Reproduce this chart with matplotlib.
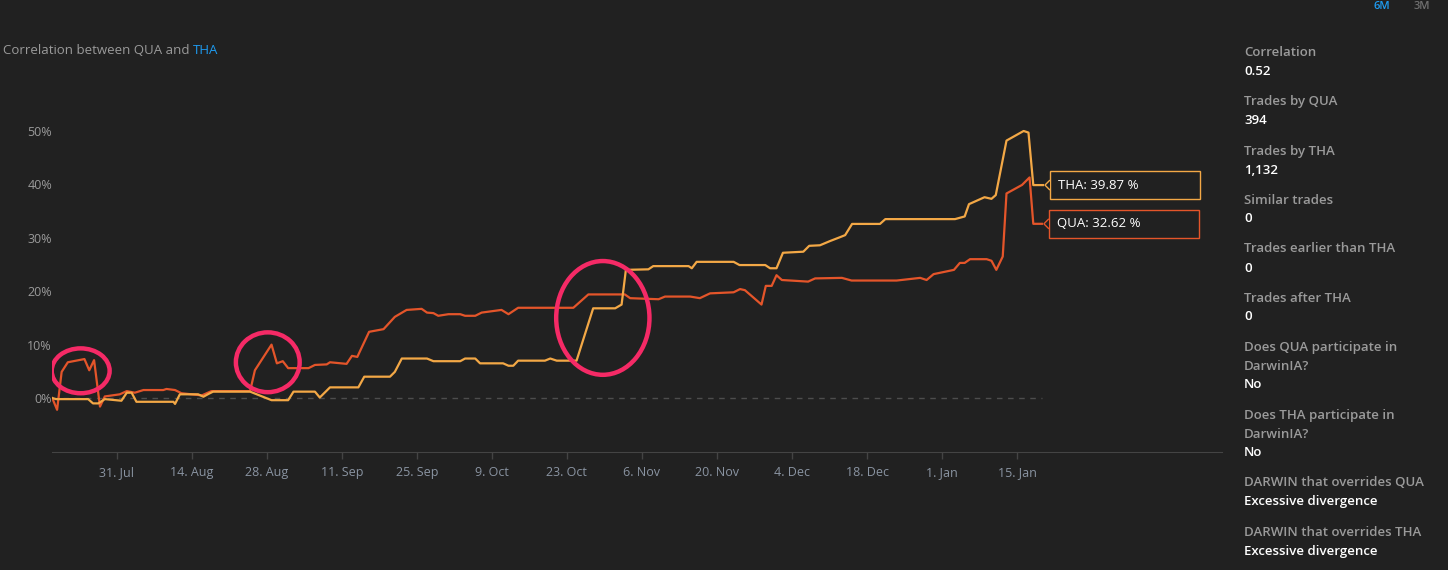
import pandas as pd
import matplotlib.pyplot as plt
import matplotlib.dates as mdates
from matplotlib.patches import Ellipse, Rectangle, Polygon
from matplotlib.transforms import IdentityTransform

plt.rcParams["font.family"] = ["Open Sans", "DejaVu Sans"]

BG = "#212121"
QUA_COLOR = "#e4552a"
THA_COLOR = "#f3a846"
CIRCLE_COLOR = "#f52a66"
LABEL_GREY = "#9a9a9a"
TICK_GREY = "#8a94a2"
BLUE = "#1e9bf0"

start = pd.Timestamp("2017-07-19")

# days since start, correlation %
qua_days = [0, 0.9, 1.75, 2.9, 6.0, 6.9, 7.8, 8.9, 9.8, 12.6, 13.9, 15.4, 17.0, 20.7, 21.3,
            22.9, 24.1, 27.9, 29.7, 36.9, 37.8, 40.9, 41.9, 43.0, 44.0, 47.8, 49.0, 51.2,
            51.8, 54.9, 55.9, 56.9, 59.1, 61.8, 63.9, 66.1, 68.9, 69.9, 71.1, 72.0, 73.9,
            76.1, 77.0, 78.9, 80.1, 83.8, 85.1, 86.9, 97.2, 98.1, 100.0, 106.8, 107.8,
            113.1, 114.3, 119.0, 120.8, 122.7, 127.1, 128.3, 129.2, 132.3, 133.1, 134.2,
            135.1, 136.1, 141.0, 142.3, 147.3, 149.1, 157.5, 161.9, 163.1, 164.4, 168.2,
            169.3, 170.2, 171.2, 174.3, 175.2, 176.1, 177.3, 178.0, 180.9, 182.3, 183.0, 184.6]
qua_vals = [0, -2.2, 4.9, 6.7, 7.3, 5.2, 7.1, -1.6, 0.3, 0.7, 1.3, 1.0, 1.5, 1.5, 1.7,
            1.5, 0.9, 0.5, 1.3, 1.3, 5.2, 10.0, 6.5, 6.9, 5.6, 5.6, 6.2, 6.3,
            6.7, 6.4, 7.9, 7.7, 12.4, 12.9, 15.2, 16.5, 16.7, 16.0, 15.9, 15.4, 15.7,
            15.7, 15.4, 15.4, 16.0, 16.5, 15.7, 16.9, 16.9, 17.7, 19.4, 19.4, 18.7,
            18.5, 19.0, 19.0, 18.7, 19.6, 19.8, 20.4, 20.2, 17.5, 21.0, 21.0,
            23.0, 22.1, 21.8, 22.4, 22.5, 22.0, 22.0, 22.5, 22.1, 23.2, 24.0,
            25.3, 25.3, 26.0, 26.0, 25.7, 24.0, 26.5, 38.3, 39.9, 41.3, 32.62, 32.62]

tha_days = [0, 0.7, 6.7, 7.6, 8.6, 9.8, 12.9, 13.9, 14.8, 15.7, 22.6, 22.9, 23.8, 27.2,
            28.2, 29.1, 30.0, 36.9, 40.9, 44.0, 45.0, 49.0, 49.9, 51.8, 57.1, 58.2, 63.0,
            63.9, 65.2, 69.9, 71.1, 76.1, 77.0, 78.9, 79.8, 84.1, 85.1, 86.0, 86.9, 91.9,
            92.9, 94.1, 97.8, 100.9, 105.0, 106.2, 107.0, 111.2, 112.1, 118.7, 119.3,
            120.2, 127.1, 128.2, 133.0, 133.9, 135.1, 136.3, 140.1, 141.2, 143.2, 145.1,
            146.9, 147.9, 149.2, 154.4, 155.4, 168.4, 170.2, 171.0, 173.9, 175.2, 176.0,
            178.0, 181.2, 182.1, 183.0, 184.8]
tha_vals = [0, -0.2, -0.2, -1.0, -1.0, -0.2, -0.5, 1.0, 1.0, -0.7, -0.7, -1.1, 0.7, 0.7,
            0.25, 0.75, 1.2, 1.2, -0.4, -0.4, 1.2, 1.2, 0.1, 2.0, 2.0, 4.0, 4.0,
            4.9, 7.4, 7.4, 6.9, 6.9, 7.4, 7.4, 6.5, 6.5, 6.05, 6.05, 7.0, 7.0,
            7.4, 7.0, 7.0, 16.8, 16.8, 17.5, 24.0, 24.1, 24.7, 24.7, 24.3,
            25.5, 25.5, 24.9, 24.9, 24.3, 24.3, 27.2, 27.4, 28.5, 28.6, 29.4,
            30.1, 30.5, 32.6, 32.6, 33.5, 33.5, 34.0, 36.3, 37.6, 37.3, 38.0,
            48.2, 50.0, 49.7, 39.87, 39.87]

tick_dates = ["2017-07-31", "2017-08-14", "2017-08-28", "2017-09-11", "2017-09-25",
              "2017-10-09", "2017-10-23", "2017-11-06", "2017-11-20", "2017-12-04",
              "2017-12-18", "2018-01-01", "2018-01-15"]
y_ticks = [0, 10, 20, 30, 40, 50]

# hand-drawn circles: centre day, centre %, width (days), height (%)
circles = [(5.3, 5.1, 10.8, 8.4), (40.2, 6.7, 11.9, 11.2), (102.7, 15.0, 17.4, 21.3)]

stats = [
    (["Correlation"], "0.52"),
    (["Trades by QUA"], "394"),
    (["Trades by THA"], "1,132"),
    (["Similar trades"], "0"),
    (["Trades earlier than THA"], "0"),
    (["Trades after THA"], "0"),
    (["Does QUA participate in", "DarwinIA?"], "No"),
    (["Does THA participate in", "DarwinIA?"], "No"),
    (["DARWIN that overrides QUA"], "Excessive divergence"),
    (["DARWIN that overrides THA"], "Excessive divergence"),
]

W, H = 1448, 570
fig = plt.figure(figsize=(W / 100, H / 100), dpi=100, facecolor=BG)
ax = fig.add_axes([52 / W, (H - 452) / H, 1170 / W, 352 / H], facecolor=BG)

qua_dates = start + pd.to_timedelta(qua_days, unit="D")
tha_dates = start + pd.to_timedelta(tha_days, unit="D")

ax.hlines(0, qua_dates[0], qua_dates[-1], colors="#4d4d4d", linestyles=(0, (4, 4)), linewidth=1)
ax.plot(qua_dates, qua_vals, color=QUA_COLOR, linewidth=1.6, zorder=3)
ax.plot(tha_dates, tha_vals, color=THA_COLOR, linewidth=1.6, zorder=3)

for cd, cv, cw, ch in circles:
    ax.add_patch(Ellipse((mdates.date2num(start + pd.Timedelta(days=cd)), cv), cw, ch,
                         fill=False, edgecolor=CIRCLE_COLOR, linewidth=3.2, zorder=4))

ax.set_xlim(start - pd.Timedelta(days=0.05), start + pd.Timedelta(days=218.2))
ax.set_ylim(-10.1, 55.8)

ax.set_xticks(pd.to_datetime(tick_dates))
ax.xaxis.set_major_formatter(mdates.DateFormatter("%-d. %b"))
ax.set_yticks(y_ticks)
ax.set_yticklabels([f"{v}%" for v in y_ticks])
ax.tick_params(axis="x", colors="#444444", length=5, width=1, labelcolor=TICK_GREY,
               labelsize=9, pad=5)
ax.tick_params(axis="y", length=0, labelcolor=LABEL_GREY, labelsize=9, pad=0)
for side in ["top", "right", "left"]:
    ax.spines[side].set_visible(False)
ax.spines["bottom"].set_color("#444444")

# tooltips at the end of each line
for name, dates, vals, color in [("THA", tha_dates, tha_vals, THA_COLOR),
                                  ("QUA", qua_dates, qua_vals, QUA_COLOR)]:
    px, py = ax.transData.transform((mdates.date2num(dates[-1]), vals[-1]))
    left = px + 7
    fig.add_artist(Rectangle((left, py - 14), 150, 28, transform=IdentityTransform(),
                             facecolor=BG, edgecolor=color, linewidth=1))
    fig.add_artist(Polygon([(left, py + 5), (left - 5, py), (left, py - 5)], closed=False,
                           transform=IdentityTransform(), facecolor=BG, edgecolor=color,
                           linewidth=1, zorder=5))
    fig.text((left + 8) / W, py / H, f"{name}: {vals[-1]:.2f} %", color="white",
             fontsize=9.5, va="center", ha="left")

# title
t1 = fig.text(3 / W, (H - 50) / H, "Correlation between QUA and ", color=LABEL_GREY,
              fontsize=9.5, va="center", ha="left")
ax.annotate("THA", xy=(1, 0), xycoords=t1, va="bottom", ha="left", color=BLUE,
            fontsize=9.5, annotation_clip=False)

# range buttons at the top edge
fig.text(1382 / W, (H - 1) / H, "6M", color=BLUE, fontsize=8, va="top", ha="center",
         fontweight="semibold")
fig.text(1422 / W, (H - 1) / H, "3M", color="#6f6f6f", fontsize=8, va="top", ha="center",
         fontweight="semibold")

# stats panel
y = 53
for labels, value in stats:
    for line in labels:
        fig.text(1244 / W, (H - y) / H, line, color=LABEL_GREY, fontsize=9.5,
                 fontweight="semibold", va="center", ha="left")
        y += 19
    fig.text(1244 / W, (H - y) / H, value, color="white", fontsize=9.5,
             fontweight="semibold", va="center", ha="left")
    y += 30

fig.savefig("out.png", dpi=100, facecolor=BG)
